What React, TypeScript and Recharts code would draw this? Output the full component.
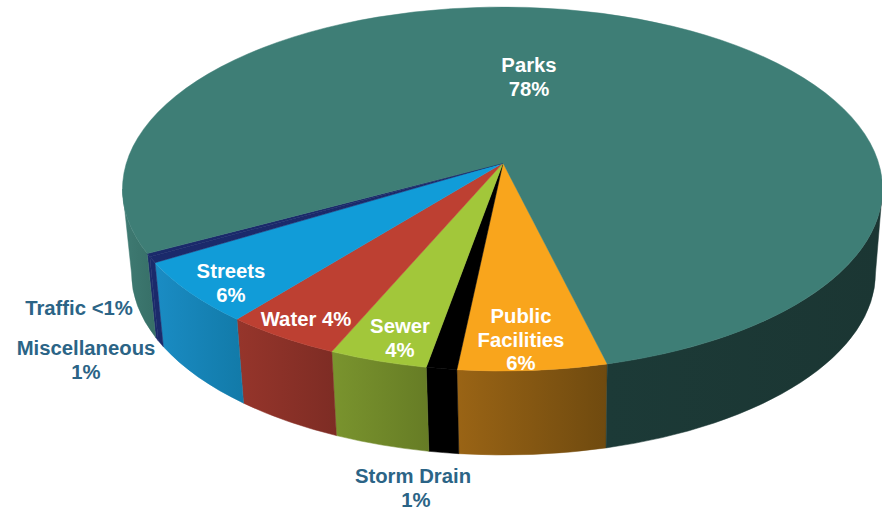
import { Pie, PieChart } from "recharts";

const CATEGORIES = ["Public Facilities", "Storm Drain", "Sewer", "Water", "Streets", "Miscellaneous", "Traffic", "Parks"];
const VALUES = [6.36, 1.3, 4.2, 4.9, 6.05, 0.56, 0.3, 76.33];
const LABELS = [
  ["Public", "Facilities", "6%"],
  ["Storm Drain", "1%"],
  ["Sewer", "4%"],
  ["Water 4%"],
  ["Streets", "6%"],
  ["Miscellaneous", "1%"],
  ["Traffic <1%"],
  ["Parks", "78%"],
];

const TOP_COLORS = ["#f9a51c", "#000000", "#a2c73a", "#bd4032", "#119cd8", "#1b2a6b", "#1b2a6b", "#3e7e76"];
const WALL_LIGHT = ["#9a6415", "#000000", "#7a942e", "#96352b", "#1a8cc4", "#1b2a6b", "#1b2a6b", "#1c3a37"];
const WALL_DARK = ["#6f4a0f", "#000000", "#667c25", "#7d2c24", "#127aa8", "#1b2a6b", "#1b2a6b", "#1b3633"];

const data = CATEGORIES.map((name, i) => ({ name, value: VALUES[i] }));

// tilted disc: top face is an ellipse, the tip sits above its centre
const SQUASH = 182 / 380;
const APEX = { dx: 0.5, dy: -26 };
const FLOOR = { dx: 1, dy: 84, rx: 372 / 380 };

const LABEL_SPOTS = [
  { x: 521, y: 316, fill: "#fff" },
  { x: 413, y: 476, fill: "#2b6486" },
  { x: 400, y: 326, fill: "#fff" },
  { x: 306, y: 319, fill: "#fff" },
  { x: 231, y: 271, fill: "#fff" },
  { x: 86, y: 348, fill: "#2b6486" },
  { x: 79, y: 308, fill: "#2b6486" },
  { x: 529, y: 65, fill: "#fff" },
];

const rad = (deg: number) => (deg * Math.PI) / 180;

function topPoint(cx: number, cy: number, r: number, deg: number) {
  return [cx + r * Math.cos(rad(deg)), cy - r * SQUASH * Math.sin(rad(deg))];
}

function floorPoint(cx: number, cy: number, r: number, deg: number) {
  return [
    cx + FLOOR.dx + r * FLOOR.rx * Math.cos(rad(deg)),
    cy + FLOOR.dy - r * SQUASH * Math.sin(rad(deg)),
  ];
}

function TopFace(props: any) {
  const { cx, cy, outerRadius: r, startAngle, endAngle, index } = props;
  const a = topPoint(cx, cy, r, startAngle);
  const b = topPoint(cx, cy, r, endAngle);
  const large = Math.abs(startAngle - endAngle) > 180 ? 1 : 0;
  const d = `M${cx + APEX.dx},${cy + APEX.dy} L${a[0]},${a[1]} A${r},${r * SQUASH} 0 ${large} 1 ${b[0]},${b[1]} Z`;
  // hairline in the slice colour closes the antialiasing seams
  return <path d={d} fill={TOP_COLORS[index]} stroke={TOP_COLORS[index]} strokeWidth={0.5} />;
}

// only the part of a slice facing the viewer has a wall
function Wall(props: any) {
  const { cx, cy, outerRadius: r, startAngle, endAngle, index } = props;
  const spans: [number, number][] = [];
  for (const [lo, hi] of [[180, 360], [-180, 0]]) {
    const from = Math.min(startAngle, hi);
    const to = Math.max(endAngle, lo);
    if (from > to) spans.push([from, to]);
  }
  return (
    <g>
      {spans.map(([from, to]) => {
        const a = topPoint(cx, cy, r, from);
        const b = topPoint(cx, cy, r, to);
        const c = floorPoint(cx, cy, r, to);
        const e = floorPoint(cx, cy, r, from);
        const d =
          `M${a[0]},${a[1]} A${r},${r * SQUASH} 0 0 1 ${b[0]},${b[1]} L${c[0]},${c[1]} ` +
          `A${r * FLOOR.rx},${r * SQUASH} 0 0 0 ${e[0]},${e[1]} Z`;
        const fill = from > 0 && index === 7 ? "url(#wall-parks-left)" : `url(#wall-${index})`;
        return <path key={from} d={d} fill={fill} stroke={fill} strokeWidth={0.5} />;
      })}
    </g>
  );
}

function SliceLabel(props: any) {
  const { index } = props;
  const spot = LABEL_SPOTS[index];
  return (
    <text
      x={spot.x}
      y={spot.y}
      fill={spot.fill}
      textAnchor="middle"
      dominantBaseline="central"
      style={{ fontFamily: "'Liberation Sans', Arial, sans-serif", fontSize: 20.3, fontWeight: 700 }}
    >
      {LABELS[index].map((line, i) => (
        <tspan key={line} x={index === 1 && i === 1 ? spot.x + 3 : spot.x} dy={i === 0 ? 0 : 23.5}>
          {line}
        </tspan>
      ))}
    </text>
  );
}

export default function App() {
  return (
    <div style={{ position: "absolute", left: 0, top: 0, width: 882, height: 509, background: "#fff" }}>
      <PieChart width={882} height={509} margin={{ top: 0, right: 0, bottom: 0, left: 0 }}>
        <defs>
          {WALL_LIGHT.map((c, i) => (
            <linearGradient key={i} id={`wall-${i}`} x1="0" y1="0" x2="1" y2="0">
              <stop offset="0%" stopColor={c} />
              <stop offset="100%" stopColor={WALL_DARK[i]} />
            </linearGradient>
          ))}
          <linearGradient id="wall-parks-left" x1="0" y1="0" x2="1" y2="0">
            <stop offset="0%" stopColor="#3f7b73" />
            <stop offset="100%" stopColor="#376f67" />
          </linearGradient>
        </defs>
        <Pie
          data={data}
          dataKey="value"
          nameKey="name"
          cx={502.5}
          cy={189}
          outerRadius={380}
          startAngle={286}
          endAngle={-74}
          isAnimationActive={false}
          stroke="none"
          shape={Wall}
          label={false}
          labelLine={false}
        />
        <Pie
          data={data}
          dataKey="value"
          nameKey="name"
          cx={502.5}
          cy={189}
          outerRadius={380}
          startAngle={286}
          endAngle={-74}
          isAnimationActive={false}
          stroke="none"
          shape={TopFace}
          label={SliceLabel}
          labelLine={false}
        />
      </PieChart>
    </div>
  );
}
